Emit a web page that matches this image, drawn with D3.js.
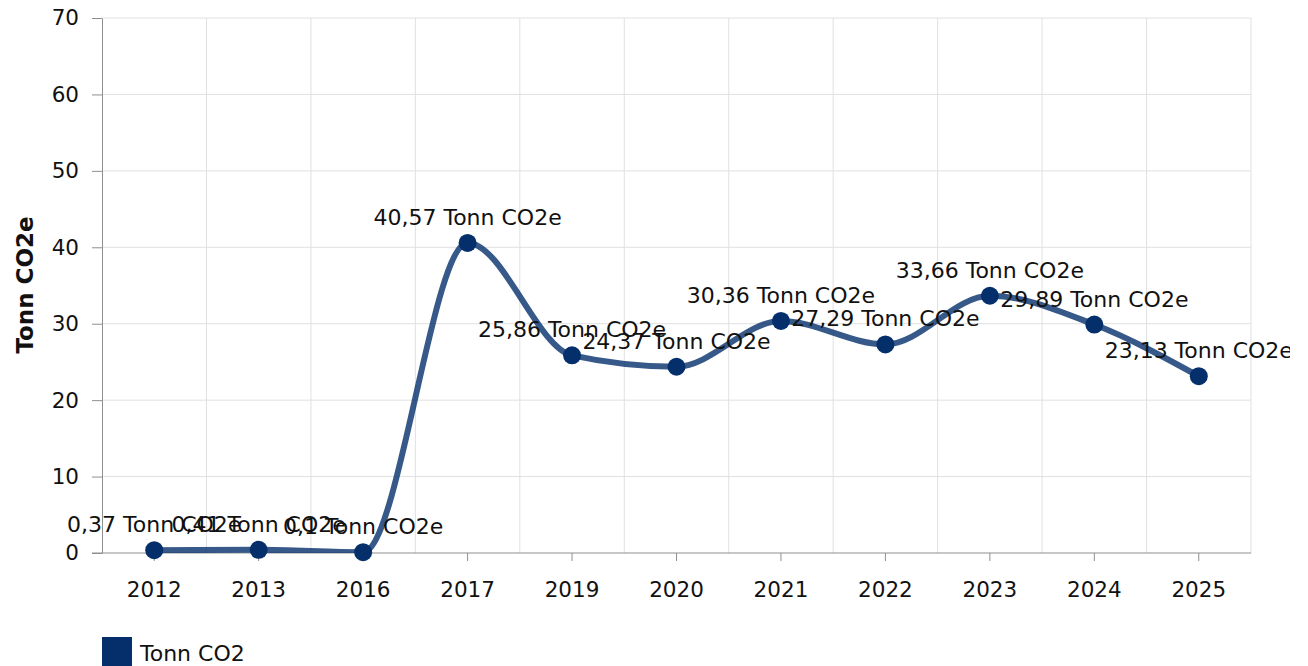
<!DOCTYPE html>
<html>
<head>
<meta charset="utf-8">
<script src="https://cdn.jsdelivr.net/npm/d3@7"></script>
<style>
  html, body { margin: 0; padding: 0; background: #fff; }
  svg { display: block; font-family: "DejaVu Sans", Verdana, sans-serif; }
</style>
</head>
<body>
<svg id="chart" width="1290" height="666"></svg>
<script>
const categories = ["2012", "2013", "2016", "2017", "2019", "2020", "2021", "2022", "2023", "2024", "2025"];
const values = [0.37, 0.41, 0.1, 40.57, 25.86, 24.37, 30.36, 27.29, 33.66, 29.89, 23.13];
const labels = ["0,37", "0,41", "0,1", "40,57", "25,86", "24,37", "30,36", "27,29", "33,66", "29,89", "23,13"];
const yTicks = [0, 10, 20, 30, 40, 50, 60, 70];
const unit = "Tonn CO2e";
const seriesName = "Tonn CO2";

(function () {
const svg = d3.select("#chart");
const pLeft = 102, pRight = 1251, pTop = 18, pBottom = 553;
const fs = 21.5;
const lfs = 22;
const navy = "#052f6b";

const x = d3.scaleBand().domain(categories).range([pLeft, pRight]).paddingInner(0).paddingOuter(0);
const y = d3.scaleLinear().domain([0, 70]).range([pBottom, pTop]);

// grid
const grid = svg.append("g");
grid.selectAll("line.h").data(yTicks.filter(d => d > 0)).enter().append("line")
  .attr("x1", pLeft).attr("x2", pRight).attr("y1", d => y(d)).attr("y2", d => y(d))
  .attr("stroke", "#e0e0e0").attr("stroke-width", 1);
grid.selectAll("line.v").data(categories).enter().append("line")
  .attr("x1", d => x(d) + x.bandwidth()).attr("x2", d => x(d) + x.bandwidth())
  .attr("y1", pTop).attr("y2", pBottom)
  .attr("stroke", "#e0e0e0").attr("stroke-width", 1);

// y axis
const yAxis = svg.append("g").attr("transform", `translate(${pLeft},0)`)
  .call(d3.axisLeft(y).tickValues(yTicks).tickSize(10).tickSizeOuter(0).tickPadding(13));
yAxis.select(".domain").attr("stroke", "#8f8f8f");
yAxis.selectAll(".tick line").attr("stroke", "#8f8f8f");
yAxis.selectAll("text").attr("font-size", fs).attr("fill", "#111").attr("font-family", "DejaVu Sans");

// x axis
const xAxis = svg.append("g").attr("transform", `translate(0,${pBottom})`)
  .call(d3.axisBottom(x).tickSize(8).tickSizeOuter(0).tickPadding(21));
xAxis.select(".domain").remove();
xAxis.selectAll(".tick line").attr("stroke", "#8f8f8f");
xAxis.selectAll("text").attr("font-size", fs).attr("fill", "#111").attr("font-family", "DejaVu Sans");
svg.append("line").attr("x1", pLeft - 10).attr("x2", pRight).attr("y1", pBottom).attr("y2", pBottom)
  .attr("stroke", "#8f8f8f").attr("stroke-width", 1);

// y title
svg.append("text").attr("transform", "translate(33,285) rotate(-90)")
  .attr("text-anchor", "middle").attr("font-weight", "bold").attr("font-size", 23)
  .attr("fill", "#111").text(unit);

// clip
svg.append("clipPath").attr("id", "plotclip").append("rect")
  .attr("x", pLeft).attr("y", pTop).attr("width", pRight - pLeft).attr("height", pBottom - pTop);

const pts = categories.map((c, i) => ({ c, v: values[i], l: labels[i] }));
const line = d3.line().x(d => x(d.c) + x.bandwidth() / 2).y(d => y(d.v)).curve(d3.curveMonotoneX);

svg.append("path").datum(pts).attr("d", line).attr("clip-path", "url(#plotclip)")
  .attr("fill", "none").attr("stroke", navy).attr("stroke-opacity", 0.8).attr("stroke-width", 6)
  .attr("stroke-linejoin", "round").attr("stroke-linecap", "round");

svg.selectAll("circle.pt").data(pts).enter().append("circle")
  .attr("cx", d => x(d.c) + x.bandwidth() / 2).attr("cy", d => y(d.v)).attr("r", 9)
  .attr("fill", navy);

svg.selectAll("text.lbl").data(pts).enter().append("text")
  .attr("x", d => x(d.c) + x.bandwidth() / 2).attr("y", d => y(d.v) - 18)
  .attr("text-anchor", "middle").attr("font-size", lfs).attr("fill", "#111")
  .text(d => d.l + " " + unit);

// legend
svg.append("rect").attr("x", 102).attr("y", 637).attr("width", 30).attr("height", 30).attr("fill", navy);
svg.append("text").attr("x", 140).attr("y", 661).attr("font-size", lfs).attr("fill", "#111").text(seriesName);
})();
</script>
</body>
</html>
